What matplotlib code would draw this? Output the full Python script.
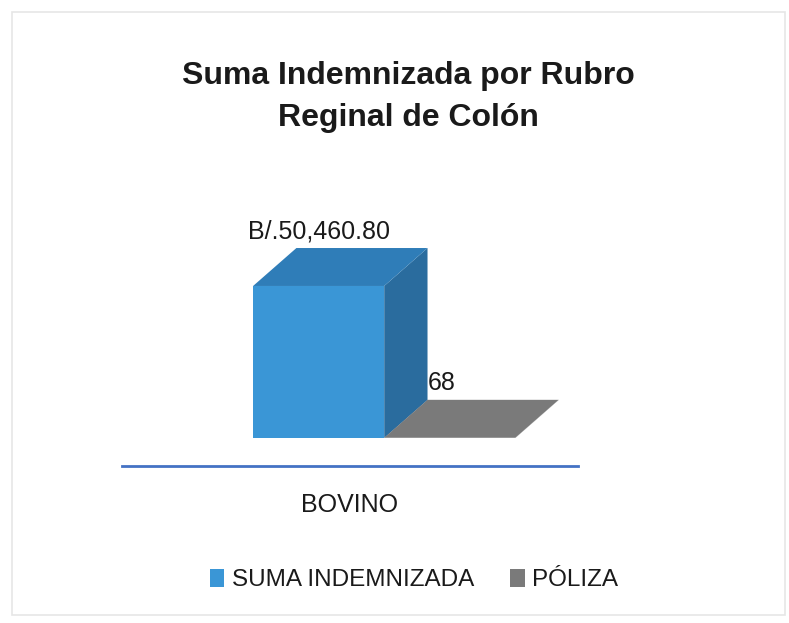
import matplotlib
matplotlib.use("Agg")
import matplotlib.pyplot as plt
from matplotlib.patches import Polygon, Rectangle

plt.rcParams["font.family"] = ["Liberation Sans", "DejaVu Sans"]

title = "Suma Indemnizada por Rubro\nReginal de Colón"
category = "BOVINO"
series = ["SUMA INDEMNIZADA", "PÓLIZA"]
values = [50460.80, 68]
value_labels = ["B/.50,460.80", "68"]

front_colors = ["#3A96D6", "#7A7A7A"]
top_colors = ["#2F7DB8", "#7A7A7A"]
side_colors = ["#2A6C9E", "#6A6A6A"]

fig = plt.figure(figsize=(7.89, 6.23), dpi=100)
fig.patches.append(Rectangle((12 / 789, 8 / 623), 773 / 789, 603 / 623,
                             transform=fig.transFigure, fill=False,
                             edgecolor="#E6E6E6", lw=1.2))

ax = fig.add_axes([122 / 789, 1 - 466 / 623, 456 / 789, 266 / 623])
ax.set_xlim(-1, 1)
ax.set_ylim(-9300, 79000)
ax.axis("off")

# 3D look: depth offset in data units
ddx = 0.19
ddy = 12600
width = 0.575
x0 = -0.425
label_dx = [0.0, -0.035]

for i, (v, lab) in enumerate(zip(values, value_labels)):
    left = x0 + i * width
    right = left + width
    # side face
    ax.add_patch(Polygon([(right, 0), (right + ddx, ddy), (right + ddx, v + ddy), (right, v)],
                         closed=True, facecolor=side_colors[i], edgecolor="none", zorder=2 - i))
    # front face
    ax.add_patch(Rectangle((left, 0), width, v, facecolor=front_colors[i],
                           edgecolor="none", zorder=3 - i))
    # top face
    ax.add_patch(Polygon([(left, v), (left + ddx, v + ddy), (right + ddx, v + ddy), (right, v)],
                         closed=True, facecolor=top_colors[i], edgecolor="none", zorder=3 - i))
    ax.text(left + width / 2 + label_dx[i], v + ddy + 1500, lab, ha="center", va="bottom",
            fontsize=18, color="#1a1a1a")

# horizontal axis line
ax.plot([-1, 1], [-9300, -9300], color="#4472C4", lw=2, clip_on=False)
fig.text(350 / 789, 1 - 505 / 623, category, ha="center", va="center", fontsize=18,
         color="#1a1a1a")

fig.text(408 / 789, 1 - 97 / 623, title, ha="center", va="center", fontsize=23,
         fontweight="bold", color="#1a1a1a", linespacing=1.5)

handles = [Rectangle((0, 0), 1, 1, facecolor=c, edgecolor="none") for c in front_colors]
fig.legend(handles, series, loc="center", bbox_to_anchor=(414 / 789, 1 - 580 / 623),
           ncol=2, frameon=False, fontsize=17.5, handlelength=0.6, handleheight=0.8,
           handletextpad=0.3, columnspacing=1.5, labelcolor="#1a1a1a")

fig.savefig("out.png", dpi=100)
